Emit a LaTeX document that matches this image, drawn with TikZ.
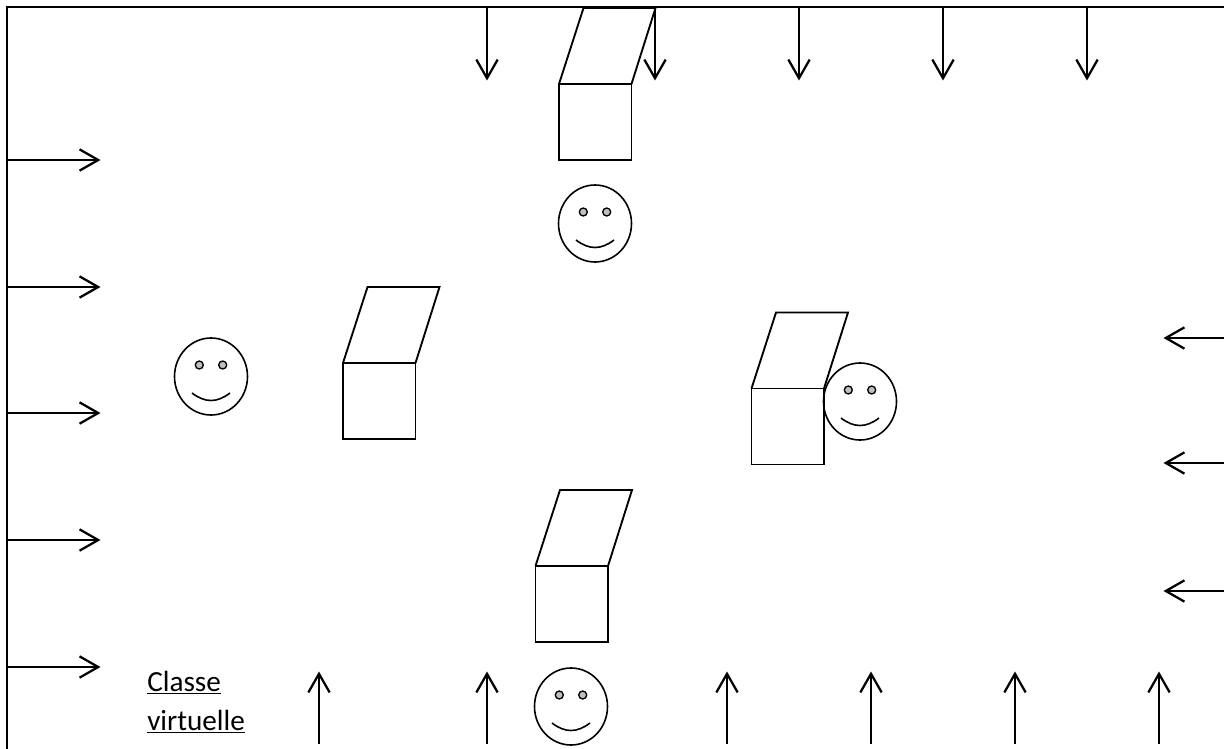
\documentclass[tikz,border=0pt]{standalone}
\usepackage{fontspec}
\setmainfont{Carlito}
\usetikzlibrary{arrows.meta}
\tikzset{
  frameline/.style={line width=1.5pt,black},
  shapeline/.style={line width=1.4pt,black,line join=miter},
  facecircle/.style={line width=1.2pt,black},
  eyedot/.style={line width=1pt,black,fill=black!25},
  arrowline/.style={line width=1.5pt,black,-{Straight Barb[length=14pt,width=16pt,line width=1.7pt]}},
  caption/.style={anchor=base west,inner sep=0pt,align=left,font=\fontsize{21.9}{29.25}\selectfont}
}
\newcommand{\deskshape}[2]{% front-left-top corner
  \draw[shapeline] (#1,#2) rectangle ++(72.5,76);
  \draw[shapeline] (#1,#2) -- ++(24.5,-76) -- ++(72,0) -- ++(-24,76);
}
\newcommand{\faceshape}[2]{% centre
  \draw[facecircle] (#1,#2+0.5) ellipse [x radius=36.5, y radius=38.5];
  \draw[eyedot] (#1-11.7,#2-11) circle [radius=4];
  \draw[eyedot] (#1+11.7,#2-11) circle [radius=4];
  \draw[facecircle] (#1-19,#2+17) .. controls (#1-6,#2+27) and (#1+6,#2+27) .. (#1+19,#2+17);
}
\newcommand{\flowarrow}[4]{%
  \coordinate (s) at (#1,#2);
  \coordinate (e) at (#3,#4);
  \draw[arrowline] (s) -- (e);
}
\begin{document}
\begin{tikzpicture}[x=0.75pt,y=-0.75pt]
\useasboundingbox (0,0) rectangle (1224,749);
\fill[white] (0,0) rectangle (1224,749);
\coordinate (corner) at (7,7.5);
\coordinate (topend) at (1224,7.5);
\coordinate (leftend) at (7,749);
\draw[frameline] (leftend) -- (corner) -- (topend);
\foreach \x in {487,655,799,943,1087} {\flowarrow{\x}{7.5}{\x}{80.5}}
\foreach \y in {160,287,413,540,667} {\flowarrow{7}{\y}{100.5}{\y}}
\foreach \y in {338,463,591} {\flowarrow{1224}{\y}{1163.5}{\y}}
\foreach \x in {319,487,727,871,1015,1159} {\flowarrow{\x}{744}{\x}{671.5}}
\deskshape{559}{84}
\deskshape{343}{363}
\deskshape{751.5}{388.5}
\deskshape{535.5}{566}
\faceshape{595}{223}
\faceshape{211}{376}
\faceshape{860}{401}
\faceshape{571}{706}
\node[caption] (label) at (147,691) {\underline{Classe}};
\node[caption] (label2) at (147,730) {\underline{virtuelle}};
\end{tikzpicture}
\end{document}
